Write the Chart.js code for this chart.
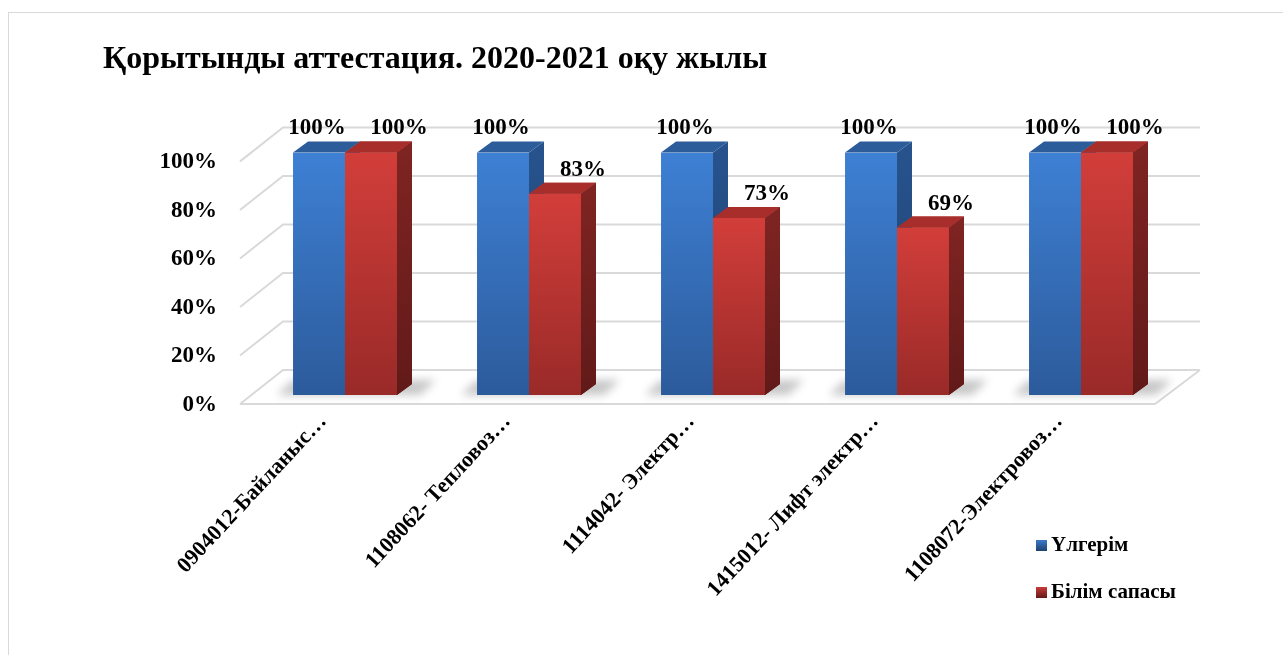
<!DOCTYPE html>
<html>
<head>
<meta charset="utf-8">
<script src="https://cdn.jsdelivr.net/npm/chart.js@4/dist/chart.umd.min.js"></script>
<style>
html,body{margin:0;padding:0;background:#fff;}
</style>
</head>
<body>
<canvas id="myChart" width="1283" height="655"></canvas>
<script>
// data
const categories = ['0904012-Байланыс…', '1108062- Тепловоз…', '1114042- Электр…', '1415012- Лифт электр…', '1108072-Электровоз…']
const ulgerim = [100, 100, 100, 100, 100]
const bilimSapasy = [100, 83, 73, 69, 100]
const seriesNames = ['Үлгерім', 'Білім сапасы']
const chartTitle = 'Қорытынды аттестация. 2020-2021 оқу жылы'

const FONT = '"Liberation Serif", "Times New Roman", serif'
const DX = 15, DY = 11

// colours for each series: front top, front bottom, side top, side bottom, top face
const pal = [
    {ft: '#3e80d4', fb: '#2c5b9b', st: '#27528c', sb: '#1e416f', tp: '#2d5c9a'},
    {ft: '#d23e3a', fb: '#992a28', st: '#7e2422', sb: '#611a19', tp: '#a82e2c'}
]

function frontFill(i){
    return function(c){
        const chart = c.chart
        if (!chart.chartArea || !c.parsed) return pal[i].ft
        const ys = chart.scales.y
        const top = ys.getPixelForValue(c.parsed.y), bot = ys.getPixelForValue(0)
        const g = chart.ctx.createLinearGradient(0, top, 0, bot)
        g.addColorStop(0, pal[i].ft)
        g.addColorStop(1, pal[i].fb)
        return g
    }
}

function faces(ctx, meta){
    const c = pal[meta.index]
    ctx.save()
    meta.data.forEach(bar => {
        const x1 = bar.x - bar.width / 2, x2 = bar.x + bar.width / 2
        const top = bar.y, bot = bar.base
        // side face
        const g = ctx.createLinearGradient(0, top, 0, bot)
        g.addColorStop(0, c.st)
        g.addColorStop(1, c.sb)
        ctx.fillStyle = g
        ctx.beginPath()
        ctx.moveTo(x2, top)
        ctx.lineTo(x2 + DX, top - DY)
        ctx.lineTo(x2 + DX, bot - DY)
        ctx.lineTo(x2, bot)
        ctx.closePath()
        ctx.fill()
        // top face
        ctx.fillStyle = c.tp
        ctx.beginPath()
        ctx.moveTo(x1, top)
        ctx.lineTo(x1 + DX, top - DY)
        ctx.lineTo(x2 + DX, top - DY)
        ctx.lineTo(x2, top)
        ctx.closePath()
        ctx.fill()
    })
    ctx.restore()
}

const bars3d = {
    id: 'bars3d',
    beforeDraw(chart){
        const ctx = chart.ctx
        ctx.save()
        ctx.strokeStyle = '#d9d9d9'
        ctx.lineWidth = 1
        ctx.strokeRect(8.5, 12.5, 1400, 800)
        ctx.restore()
    },
    beforeDatasetsDraw(chart){
        const ctx = chart.ctx, ys = chart.scales.y, area = chart.chartArea
        const fx0 = area.left - 13, bx0 = area.left + 30, bx1 = area.right + 27, fx1 = area.right - 18
        ctx.save()
        ctx.strokeStyle = '#d9d9d9'
        ctx.lineWidth = 2
        ys.ticks.forEach(t => {
            const p = ys.getPixelForValue(t.value)
            ctx.beginPath()
            ctx.moveTo(fx0, p + 9)
            ctx.lineTo(bx0, p - 25)
            ctx.lineTo(bx1, p - 25)
            ctx.stroke()
        })
        const p0 = ys.getPixelForValue(0)
        ctx.beginPath()
        ctx.moveTo(fx0, p0 + 9)
        ctx.lineTo(fx1, p0 + 9)
        ctx.lineTo(bx1, p0 - 25)
        ctx.stroke()
        // soft floor shadows
        const m0 = chart.getDatasetMeta(0), m1 = chart.getDatasetMeta(1)
        ctx.filter = 'blur(4px)'
        ctx.fillStyle = 'rgba(0,0,0,0.22)'
        m0.data.forEach((b, i) => {
            const r = m1.data[i]
            const xl = b.x - b.width / 2, xr = r.x + r.width / 2
            ctx.beginPath()
            ctx.moveTo(xl - 16, p0)
            ctx.lineTo(xr + DX + 8, p0)
            ctx.lineTo(xr + DX + 24, p0 - DY - 4)
            ctx.lineTo(xl, p0 - DY - 4)
            ctx.closePath()
            ctx.fill()
        })
        ctx.restore()
    },
    afterDatasetDraw(chart, args){
        const ctx = chart.ctx, meta = args.meta
        faces(ctx, meta)
        // chart.js draws the second series first, so put it back on top of the first one
        if (meta.index === 0) {
            const m1 = chart.getDatasetMeta(1)
            m1.data.forEach(b => b.draw(ctx, chart.chartArea))
            faces(ctx, m1)
        }
    },
    afterDatasetsDraw(chart){
        const ctx = chart.ctx
        ctx.save()
        ctx.font = 'bold 23px ' + FONT
        ctx.fillStyle = '#000'
        ctx.textAlign = 'center'
        ctx.textBaseline = 'middle'
        chart.data.datasets.forEach((ds, di) => {
            chart.getDatasetMeta(di).data.forEach((bar, i) => {
                const off = di === 0 ? -2 : 28
                ctx.fillText(ds.data[i] + '%', bar.x + off, bar.y - 24)
            })
        })
        // legend
        ctx.font = 'bold 21px ' + FONT
        ctx.textAlign = 'left'
        chart.data.datasets.forEach((ds, di) => {
            const y = 545 + di * 47
            const g = ctx.createLinearGradient(0, y - 6, 0, y + 6)
            g.addColorStop(0, pal[di].ft)
            g.addColorStop(1, pal[di].sb)
            ctx.fillStyle = g
            ctx.fillRect(1036, y - 5, 11, 11)
            ctx.fillStyle = '#000'
            ctx.fillText(ds.label, 1051, y + 1)
        })
        ctx.restore()
    }
}

const ctx = document.getElementById('myChart').getContext('2d')
const myChart = new Chart(ctx, {
    type: 'bar',
    data: {
        labels: categories,
        datasets: [{
            label: seriesNames[0],
            data: ulgerim,
            backgroundColor: frontFill(0),
            borderWidth: 0,
            categoryPercentage: 0.565,
            barPercentage: 1.0
        }, {
            label: seriesNames[1],
            data: bilimSapasy,
            backgroundColor: frontFill(1),
            borderWidth: 0,
            categoryPercentage: 0.565,
            barPercentage: 1.0
        }]
    },
    options: {
        responsive: false,
        animation: false,
        layout: {padding: {left: 103, right: 110, top: 0, bottom: 0}},
        plugins: {
            legend: {display: false},
            tooltip: {enabled: false},
            title: {
                display: true,
                text: chartTitle,
                align: 'start',
                color: '#000',
                font: {family: FONT, size: 32, weight: 'bold'},
                padding: {top: 41, bottom: 73}
            }
        },
        scales: {
            x: {
                grid: {display: false, drawTicks: false},
                border: {display: false},
                afterFit: s => { s.height = 260 },
                ticks: {
                    color: '#000',
                    font: {family: FONT, size: 22, weight: 'bold'},
                    maxRotation: 47,
                    minRotation: 47,
                    autoSkip: false,
                    padding: 14,
                    labelOffset: -22
                }
            },
            y: {
                min: 0,
                max: 100,
                grid: {display: false, drawTicks: false},
                border: {display: false},
                afterFit: s => { s.width = 150 },
                ticks: {
                    stepSize: 20,
                    color: '#000',
                    padding: 36,
                    labelOffset: 10,
                    font: {family: FONT, size: 23, weight: 'bold'},
                    callback: v => v + '%'
                }
            }
        }
    },
    plugins: [bars3d]
})
</script>
</body>
</html>
